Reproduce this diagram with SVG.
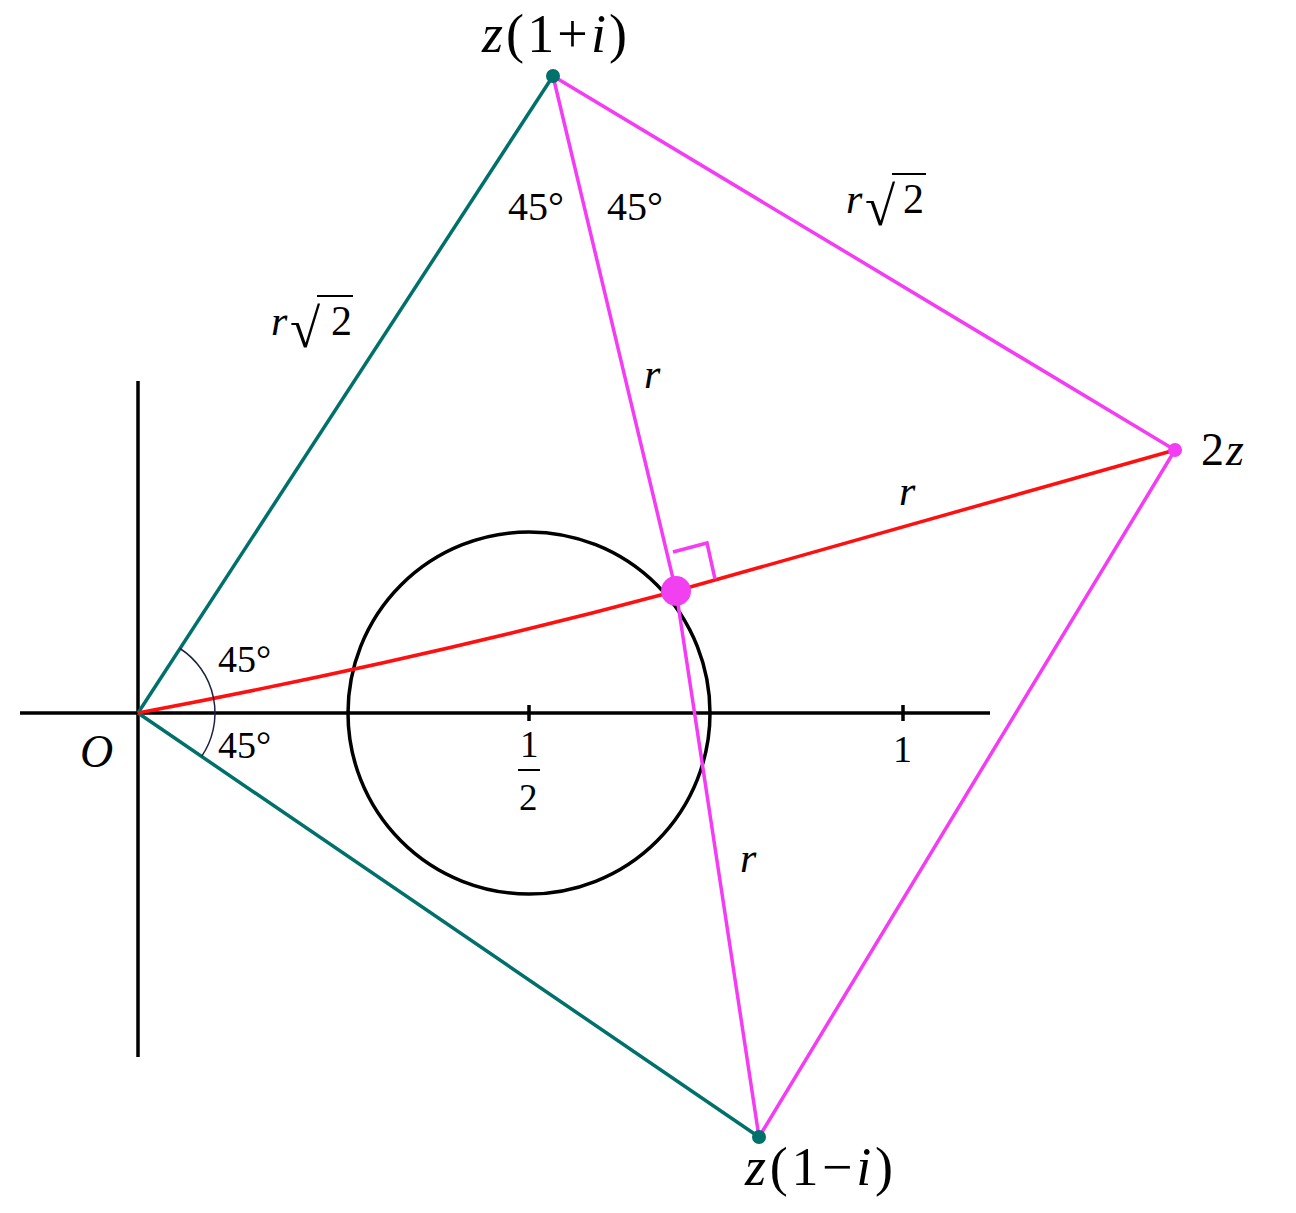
<svg xmlns="http://www.w3.org/2000/svg" width="1296" height="1213" viewBox="0 0 1296 1213">
<style>
.ax{stroke:#000;stroke-width:3.5;fill:none}
.teal{stroke:#00706a;stroke-width:3.5;fill:none}
.mag{stroke:#f53cf5;stroke-width:3.5;fill:none}
.red{stroke:#ff1010;stroke-width:3.5;fill:none}
.arc{stroke:#1a2340;stroke-width:1.5;fill:none}
.t{font-family:"Liberation Serif","Times New Roman",serif;fill:#000}
.it{font-style:italic}
.vin{stroke:#000;stroke-width:2.2}
</style>
<rect width="1296" height="1213" fill="#fff"/>
<g id="axes">
<line class="ax" x1="20" y1="713" x2="990" y2="713"/>
<line class="ax" x1="138" y1="381" x2="138" y2="1057"/>
<line class="ax" x1="529" y1="705" x2="529" y2="721"/>
<line class="ax" x1="903" y1="705" x2="903" y2="721"/>
</g>
<g id="circle"><circle class="ax" cx="529" cy="713" r="181"/></g>
<g id="connectors">
<line class="teal" x1="138" y1="713" x2="553" y2="76"/>
<line class="teal" x1="138" y1="713" x2="759" y2="1137"/>
<polyline class="mag" points="553,76 1175,450 759,1137"/>
<polyline class="mag" points="553,76 676,591 759,1137"/>
<path class="red" d="M138,713 Q420,660 676,591 L1175,450"/>
<polyline class="mag" points="673,552 707,543 715,579"/>
<path class="arc" d="M180,648.5 A77,77 0 0 1 201.6,756.4"/>
</g>
<g id="node-z1pi"><circle cx="553" cy="76" r="7" fill="#00706a"/></g>
<g id="node-z1mi"><circle cx="759" cy="1137" r="7" fill="#00706a"/></g>
<g id="node-2z"><circle cx="1175" cy="450" r="7" fill="#f53cf5"/></g>
<g id="node-z"><circle cx="676" cy="591" r="15" fill="#f040f0"/></g>
<g id="labels">
<text class="t" x="482" y="52" font-size="54" textLength="145" lengthAdjust="spacing"><tspan class="it">z</tspan>(1+<tspan class="it">i</tspan>)</text>
<text class="t" x="745" y="1185" font-size="54" textLength="148" lengthAdjust="spacing"><tspan class="it">z</tspan>(1−<tspan class="it">i</tspan>)</text>
<text class="t" x="1201" y="465" font-size="46"><tspan>2</tspan><tspan class="it" dx="2">z</tspan></text>
<text class="t it" x="80" y="767" font-size="46">O</text>
<text class="t" x="218" y="672" font-size="38">45°</text>
<text class="t" x="218" y="758" font-size="38">45°</text>
<text class="t" x="508" y="220" font-size="40">45°</text>
<text class="t" x="607" y="220" font-size="40">45°</text>
<text class="t it" x="644" y="388" font-size="42">r</text>
<text class="t it" x="899" y="505" font-size="42">r</text>
<text class="t it" x="740" y="872" font-size="42">r</text>
<text class="t" x="520" y="757" font-size="37">1</text>
<line x1="518" y1="770" x2="540" y2="770" stroke="#000" stroke-width="2"/>
<text class="t" x="519" y="810" font-size="37">2</text>
<text class="t" x="893" y="762" font-size="38">1</text>
<text class="t it" x="271" y="335" font-size="42">r</text>
<text class="t" x="290" y="347" font-size="55">√</text>
<line class="vin" x1="317" y1="296" x2="353" y2="296"/>
<text class="t" x="331" y="335" font-size="42">2</text>
<text class="t it" x="846" y="213" font-size="42">r</text>
<text class="t" x="865" y="225" font-size="55">√</text>
<line class="vin" x1="892" y1="174" x2="926" y2="174"/>
<text class="t" x="903" y="213" font-size="42">2</text>
</g>
</svg>
